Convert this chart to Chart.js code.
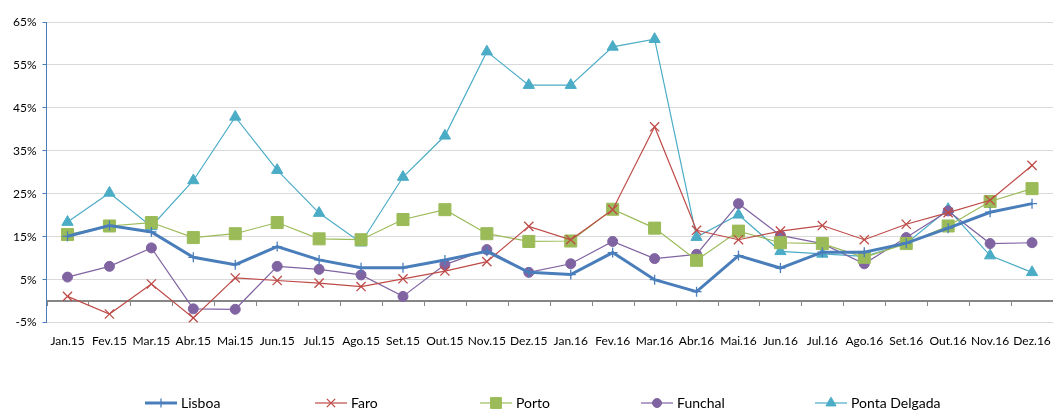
<!DOCTYPE html>
<html>
<head>
<meta charset="utf-8">
<script src="https://cdn.jsdelivr.net/npm/chart.js@4/dist/chart.umd.min.js"></script>
<style>
  html, body { margin: 0; padding: 0; background: #fff; overflow: hidden; }
  #wrap { width: 1053px; height: 410px; }
  canvas { display: block; }
</style>
</head>
<body>
<div id="wrap"><canvas id="chartCanvas"></canvas></div>
<script>
const months = ["Jan.15", "Fev.15", "Mar.15", "Abr.15", "Mai.15", "Jun.15", "Jul.15", "Ago.15",
  "Set.15", "Out.15", "Nov.15", "Dez.15", "Jan.16", "Fev.16", "Mar.16", "Abr.16",
  "Mai.16", "Jun.16", "Jul.16", "Ago.16", "Set.16", "Out.16", "Nov.16", "Dez.16"];

const lisboa = [15.1, 17.6, 16.1, 10.2, 8.5, 12.7, 9.6, 7.8, 7.8, 9.6, 11.6, 6.7,
  6.2, 11.3, 5.0, 2.2, 10.6, 7.7, 11.4, 11.4, 13.5, 17.0, 20.7, 22.7];
const faro = [1.1, -3.0, 4.0, -3.9, 5.4, 4.8, 4.2, 3.4, 5.2, 7.0, 9.2, 17.4,
  14.3, 21.3, 40.6, 16.5, 14.3, 16.3, 17.6, 14.3, 17.9, 20.6, 23.5, 31.6];
const porto = [15.5, 17.5, 18.3, 14.8, 15.7, 18.3, 14.5, 14.3, 19.0, 21.3, 15.7, 13.9,
  14.0, 21.4, 17.0, 9.5, 16.3, 13.6, 13.4, 10.2, 13.4, 17.5, 23.2, 26.2];
const funchal = [5.6, 8.1, 12.4, -1.8, -1.9, 8.1, 7.4, 6.1, 1.1, 8.5, 12.0, 6.7,
  8.7, 13.9, 9.9, 10.9, 22.7, 15.3, 13.4, 8.7, 14.8, 21.0, 13.4, 13.6];
const pontaDelgada = [18.4, 25.2, 17.4, 28.1, 42.9, 30.5, 20.5, 13.6, 28.9, 38.5, 58.1, 50.3,
  50.3, 59.2, 61.0, 14.9, 20.1, 11.6, 11.0, 10.4, 13.4, 21.4, 10.6, 6.7];

const yTicks = [-5, 5, 15, 25, 35, 45, 55, 65];

const fontName = "Lato, 'Open Sans', sans-serif";

function series(label, data, color, style, radius, width) {
  return {
    label: label,
    data: data,
    borderColor: color,
    backgroundColor: color,
    borderWidth: width,
    pointStyle: style,
    pointRadius: radius,
    pointHoverRadius: radius,
    pointBorderColor: color,
    pointBackgroundColor: color,
    pointBorderWidth: style === "cross" || style === "crossRot" ? 1.3 : 1,
    tension: 0
  };
}

// zero line with its ticks, and the bottom legend, drawn like the excel chart
const excelBits = {
  id: "excelBits",
  beforeDatasetsDraw(chart) {
    const ctx = chart.ctx;
    const x = chart.scales.x;
    const y = chart.scales.y;
    const y0 = Math.round(y.getPixelForValue(0));
    ctx.save();
    ctx.strokeStyle = "#868686";
    ctx.lineWidth = 2;
    ctx.beginPath();
    ctx.moveTo(x.left, y0);
    ctx.lineTo(x.right, y0);
    ctx.stroke();
    ctx.lineWidth = 1;
    for (let i = 0; i <= months.length; i++) {
      const px = Math.round(x.left + (x.right - x.left) * i / months.length) + 0.5;
      ctx.beginPath();
      ctx.moveTo(px, y0);
      ctx.lineTo(px, y0 + 5);
      ctx.stroke();
    }
    ctx.restore();
  },
  afterDraw(chart) {
    const ctx = chart.ctx;
    const starts = [145, 315, 480, 641, 815];
    const ly = 403;
    ctx.save();
    ctx.font = "14px " + fontName;
    ctx.textBaseline = "middle";
    chart.data.datasets.forEach((ds, i) => {
      const sx = starts[i];
      ctx.strokeStyle = ds.borderColor;
      ctx.lineWidth = ds.borderWidth;
      ctx.beginPath();
      ctx.moveTo(sx, ly);
      ctx.lineTo(sx + 32, ly);
      ctx.stroke();
      ctx.fillStyle = ds.borderColor;
      ctx.lineWidth = ds.pointBorderWidth;
      Chart.helpers.drawPoint(ctx, { pointStyle: ds.pointStyle, radius: ds.pointRadius * 0.9, rotation: 0, borderWidth: ds.pointBorderWidth }, sx + 16, ly);
      ctx.fillStyle = "#000";
      ctx.fillText(ds.label, sx + 36, ly);
    });
    ctx.restore();
  }
};

const ctx = document.getElementById("chartCanvas").getContext("2d");
new Chart(ctx, {
  type: "line",
  data: {
    labels: months,
    datasets: [
      series("Lisboa", lisboa, "#4a7ebb", "cross", 5, 3),
      series("Faro", faro, "#be4b48", "crossRot", 6.5, 1.2),
      series("Porto", porto, "#9bbb59", "rect", 8.5, 1.2),
      series("Funchal", funchal, "#8064a2", "circle", 5, 1.2),
      series("Ponta Delgada", pontaDelgada, "#4bacc6", "triangle", 6.5, 1.2)
    ]
  },
  plugins: [excelBits],
  options: {
    responsive: true,
    maintainAspectRatio: false,
    animation: false,
    layout: { autoPadding: false, padding: { top: 22, right: 0, left: 7, bottom: 62 } },
    plugins: {
      legend: { display: false },
      tooltip: { enabled: false }
    },
    scales: {
      x: {
        offset: true,
        afterFit: (s) => { s.paddingLeft = 0; s.paddingRight = 0; },
        grid: { display: true, drawOnChartArea: false, drawTicks: true, tickLength: 11, tickColor: "rgba(0,0,0,0)" },
        border: { display: false },
        ticks: {
          color: "#000",
          padding: 0,
          maxRotation: 0,
          autoSkip: false,
          font: { family: fontName, size: 12 }
        }
      },
      y: {
        min: -5,
        max: 65,
        afterBuildTicks: (axis) => { axis.ticks = yTicks.map(v => ({ value: v })); },
        grid: {
          color: "#d9d9d9",
          lineWidth: 1,
          tickColor: "#4a7ebb",
          tickLength: 4
        },
        border: { color: "#4a7ebb", width: 1 },
        ticks: {
          color: "#000",
          padding: 6,
          font: { family: fontName, size: 12 },
          callback: (v) => v + "%"
        }
      }
    }
  }
});
</script>
</body>
</html>
